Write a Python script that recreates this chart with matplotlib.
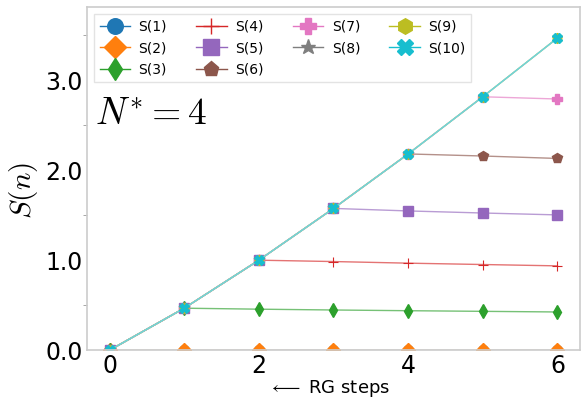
import numpy as np
import matplotlib.pyplot as plt
from matplotlib.colors import to_rgb
from matplotlib.lines import Line2D
from matplotlib.ticker import MultipleLocator

plt.rcParams['mathtext.fontset'] = 'cm'

# RG step index
steps = [0, 1, 2, 3, 4, 5, 6]

# S(k) after each RG step
s1 = [0.0, 0.0, 0.0, 0.0, 0.0, 0.0, 0.0]
s2 = [0.0, 0.0, 0.0, 0.0, 0.0, 0.0, 0.0]
s3 = [0.0, 0.467, 0.456, 0.447, 0.439, 0.432, 0.425]
s4 = [0.0, 0.467, 1.0, 0.985, 0.967, 0.952, 0.937]
s5 = [0.0, 0.467, 1.0, 1.575, 1.547, 1.524, 1.503]
s6 = [0.0, 0.467, 1.0, 1.575, 2.18, 2.157, 2.13]
s7 = [0.0, 0.467, 1.0, 1.575, 2.18, 2.815, 2.79]
s8 = [0.0, 0.467, 1.0, 1.575, 2.18, 2.815, 3.467]
s9 = [0.0, 0.467, 1.0, 1.575, 2.18, 2.815, 3.467]
s10 = [0.0, 0.467, 1.0, 1.575, 2.18, 2.815, 3.467]

series = [s1, s2, s3, s4, s5, s6, s7, s8, s9, s10]
labels = ['S(%d)' % (i + 1) for i in range(10)]
markers = ['o', 'D', 'd', '+', 's', 'p', 'P', '*', 'h', 'X']
n_star = 4


def lighten(c, amount=0.35):
    r, g, b = to_rgb(c)
    return (r + (1 - r) * amount, g + (1 - g) * amount, b + (1 - b) * amount)


fig, ax = plt.subplots(figsize=(5.81, 3.98), dpi=100)
fig.subplots_adjust(left=0.15, right=0.998, top=0.982, bottom=0.12)

handles = []
for i, (vals, lab, mk) in enumerate(zip(series, labels, markers)):
    c = 'C%d' % i
    ax.plot(steps, vals, '-', color=lighten(c), lw=1)
    ax.plot(steps, vals, linestyle='none', marker=mk, color=c, ms=7,
            mew=0.8 if mk == '+' else 1)
    handles.append(Line2D([], [], color=c, lw=1, marker=mk, ms=7, label=lab))

ax.set_xlim(-0.3, 6.3)
ax.set_ylim(0, 3.81)
ax.set_xticks([0, 2, 4, 6])
ax.set_yticks([0, 1, 2, 3])
ax.set_yticklabels(['0.0', '1.0', '2.0', '3.0'])
ax.yaxis.set_minor_locator(MultipleLocator(0.5))
ax.tick_params(axis='both', which='major', length=0, labelsize=17, pad=3)
ax.tick_params(axis='y', which='minor', length=3, color='#999999')

for sp in ax.spines.values():
    sp.set_color('#cccccc')
    sp.set_linewidth(1.2)

ax.set_ylabel('$S(n)$', fontsize=21)
ax.yaxis.set_label_coords(-0.096, 0.466)
ax.set_xlabel(r'$\longleftarrow$ RG steps', fontsize=13)
ax.xaxis.set_label_coords(0.49, -0.08)

ax.text(0.015, 0.66, '$N^{*} = %d$' % n_star, transform=ax.transAxes, fontsize=27)

ax.legend(handles=handles, ncol=4, loc='upper left', fontsize=10, markerscale=1.6,
          handlelength=2.2, handletextpad=0.6, columnspacing=2.1, labelspacing=0.55,
          borderaxespad=0.5, fancybox=False, edgecolor='#dddddd')

plt.savefig('out.png', dpi=100)
